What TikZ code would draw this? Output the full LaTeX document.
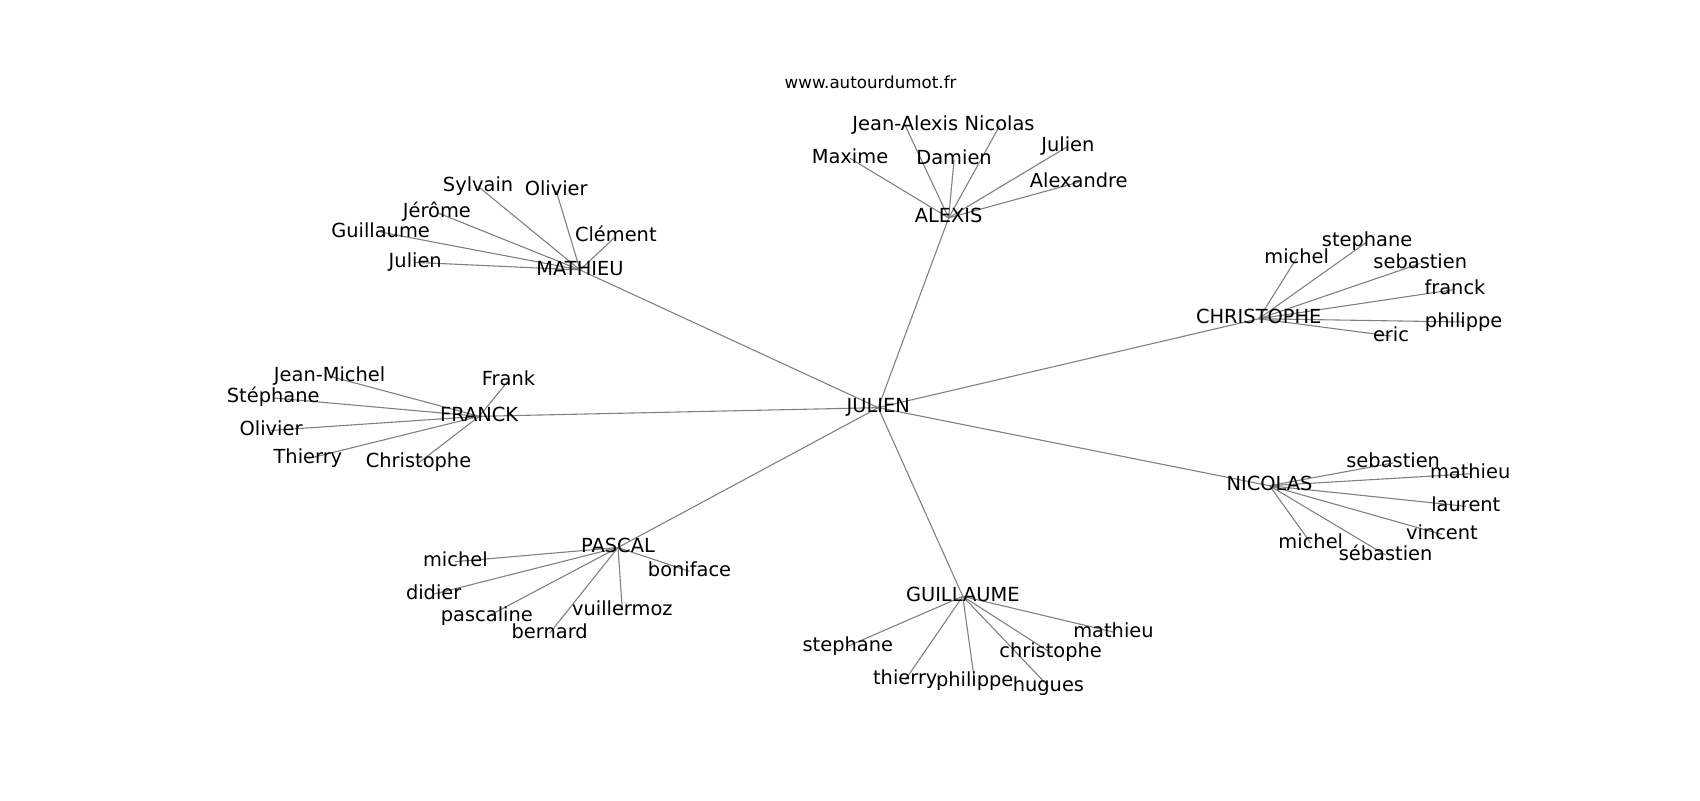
\documentclass[tikz,border=0pt]{standalone}
\usepackage{fontspec}
\setmainfont{DejaVu Sans}
\pgfdeclarelayer{background}
\pgfsetlayers{background,main}
\tikzset{
  lbl/.style={inner sep=0pt, text height=13.6pt, text depth=4.3pt, font=\fontsize{17.9}{20}\selectfont, text=black},
  ttl/.style={inner sep=0pt, font=\fontsize{15.4}{18}\selectfont, text=black},
  edge/.style={draw=black!50, line width=1pt}
}
\begin{document}
\begin{tikzpicture}[x=1pt,y=-1pt]
\useasboundingbox (0,0) rectangle (1568,738);
\node[ttl] (title) at (803,76) {www.autourdumot.fr};
% hubs
\node[lbl] (j) at (810,376) {JULIEN};
\node[lbl] (al) at (875,201) {ALEXIS};
\node[lbl] (ma) at (535,249) {MATHIEU};
\node[lbl] (ch) at (1161,294) {CHRISTOPHE};
\node[lbl] (ni) at (1171,448) {NICOLAS};
\node[lbl] (gu) at (888,550) {GUILLAUME};
\node[lbl] (pa) at (570,505) {PASCAL};
\node[lbl] (fr) at (442,384) {FRANCK};
% ALEXIS leaves
\node[lbl] (al1) at (835,116) {Jean-Alexis};
\node[lbl] (al2) at (922,116) {Nicolas};
\node[lbl] (al3) at (784,146) {Maxime};
\node[lbl] (al4) at (880,147) {Damien};
\node[lbl] (al5) at (985,135) {Julien};
\node[lbl] (al6) at (995,168) {Alexandre};
% MATHIEU leaves
\node[lbl] (ma1) at (441,172) {Sylvain};
\node[lbl] (ma2) at (513,176) {Olivier};
\node[lbl] (ma3) at (403,196) {Jérôme};
\node[lbl] (ma4) at (351,214) {Guillaume};
\node[lbl] (ma5) at (568,218) {Clément};
\node[lbl] (ma6) at (383,242) {Julien};
% CHRISTOPHE leaves
\node[lbl] (ch1) at (1196,238) {michel};
\node[lbl] (ch2) at (1261,223) {stephane};
\node[lbl] (ch3) at (1310,243) {sebastien};
\node[lbl] (ch4) at (1342,267) {franck};
\node[lbl] (ch5) at (1350,297) {philippe};
\node[lbl] (ch6) at (1283,310) {eric};
% NICOLAS leaves
\node[lbl] (ni1) at (1285,427) {sebastien};
\node[lbl] (ni2) at (1356,437) {mathieu};
\node[lbl] (ni3) at (1352,467) {laurent};
\node[lbl] (ni4) at (1330,493) {vincent};
\node[lbl] (ni5) at (1209,501) {michel};
\node[lbl] (ni6) at (1278,512) {sébastien};
% GUILLAUME leaves
\node[lbl] (gu1) at (782,596) {stephane};
\node[lbl] (gu2) at (835,627) {thierry};
\node[lbl] (gu3) at (899,629) {philippe};
\node[lbl] (gu4) at (967,633) {hugues};
\node[lbl] (gu5) at (969,602) {christophe};
\node[lbl] (gu6) at (1027,583) {mathieu};
% PASCAL leaves
\node[lbl] (pa1) at (420,518) {michel};
\node[lbl] (pa2) at (400,548) {didier};
\node[lbl] (pa3) at (449,569) {pascaline};
\node[lbl] (pa4) at (507,584) {bernard};
\node[lbl] (pa5) at (574,563) {vuillermoz};
\node[lbl] (pa6) at (636,527) {boniface};
% FRANCK leaves
\node[lbl] (fr1) at (304,347) {Jean-Michel};
\node[lbl] (fr2) at (252,367) {Stéphane};
\node[lbl] (fr3) at (250,397) {Olivier};
\node[lbl] (fr4) at (284,423) {Thierry};
\node[lbl] (fr5) at (386,427) {Christophe};
\node[lbl] (fr6) at (469,351) {Frank};
\begin{pgfonlayer}{background}
\fill[white] (0,0) rectangle (1568,738);
\foreach \h in {al,ma,ch,ni,gu,pa,fr} {
  \draw[edge] (j.center) -- (\h.center);
  \foreach \i in {1,...,6} {
    \draw[edge] (\h.center) -- (\h\i.center);
  }
}
\end{pgfonlayer}
\end{tikzpicture}
\end{document}
